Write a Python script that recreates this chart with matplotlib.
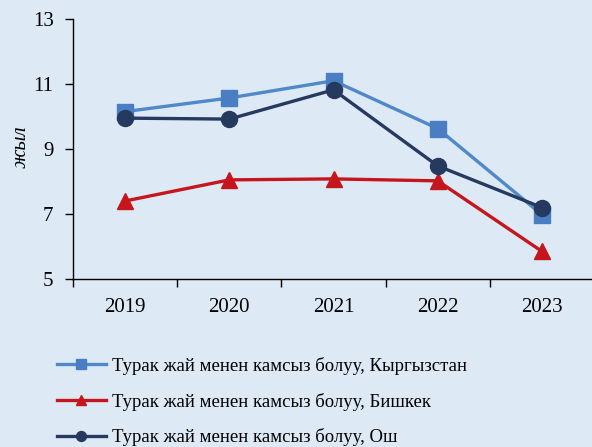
import matplotlib
matplotlib.use('Agg')
import matplotlib.pyplot as plt

years = ['2019', '2020', '2021', '2022', '2023']
kyrgyzstan = [10.15, 10.57, 11.1, 9.63, 6.98]
bishkek = [7.4, 8.05, 8.08, 8.02, 5.85]
osh = [9.95, 9.92, 10.82, 8.48, 7.2]

labels = ['Турак жай менен камсыз болуу, Кыргызстан',
          'Турак жай менен камсыз болуу, Бишкек',
          'Турак жай менен камсыз болуу, Ош']

plt.rcParams['font.family'] = ['Liberation Serif', 'DejaVu Serif']
bg = '#dde9f5'

fig = plt.figure(figsize=(5.92, 4.47), dpi=100, facecolor=bg)
ax = fig.add_axes([73 / 592, 168 / 447, 521 / 592, 260 / 447], facecolor=bg)

x = range(len(years))
ax.plot(x, kyrgyzstan, color='#5088c8', lw=2.4, marker='s', ms=12,
        mfc='#4a7ec2', mec='#4a7ec2', label=labels[0])
ax.plot(x, bishkek, color='#c4161c', lw=2.4, marker='^', ms=12,
        mfc='#c4161c', mec='#c4161c', label=labels[1])
ax.plot(x, osh, color='#26395e', lw=2.4, marker='o', ms=11.5,
        mfc='#26395e', mec='#26395e', label=labels[2])

# axis styling
ax.set_ylim(5, 13)
ax.set_yticks([5, 7, 9, 11, 13])
ax.set_xlim(-0.5, 4.5)
ax.set_xticks([i + 0.5 for i in range(-1, len(years))], minor=False)
ax.set_xticklabels([])
ax.set_xticks(list(x), minor=True)
ax.set_xticklabels(years, minor=True)
ax.tick_params(axis='x', which='major', length=6, width=1, direction='out')
ax.tick_params(axis='x', which='minor', length=0, labelsize=15, pad=14)
ax.tick_params(axis='y', length=6, width=1, direction='out', labelsize=15, pad=8)
for s in ['top', 'right']:
    ax.spines[s].set_visible(False)
for s in ['left', 'bottom']:
    ax.spines[s].set_linewidth(1)

fig.text(21 / 592, 1 - 147 / 447, 'жыл', rotation=90, style='italic',
         fontsize=15, ha='center', va='center')

fig.legend(loc='upper left', bbox_to_anchor=(40 / 592, 1 - 340 / 447),
           frameon=False, fontsize=13.5, handlelength=2.6, markerscale=0.62,
           labelspacing=0.95, handletextpad=0.35)

plt.savefig('out.png', dpi=100, facecolor=bg)
